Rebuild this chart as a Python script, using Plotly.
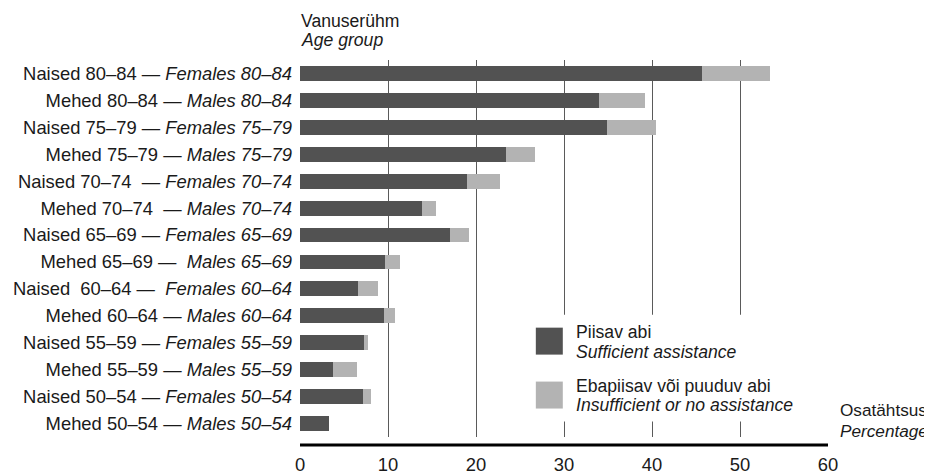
import plotly.graph_objects as go

# ---- data (bottom to top) ----
categories = [
    "M50", "N50", "M55", "N55", "M60", "N60", "M65",
    "N65", "M70", "N70", "M75", "N75", "M80", "N80",
]
tick_labels = [
    "Mehed 50–54 — <i>Males 50–54</i>",
    "Naised 50–54 — <i>Females 50–54</i>",
    "Mehed 55–59 — <i>Males 55–59</i>",
    "Naised 55–59 — <i>Females 55–59</i>",
    "Mehed 60–64 — <i>Males 60–64</i>",
    "Naised\u00a0 60–64 —\u00a0 <i>Females 60–64</i>",
    "Mehed 65–69 —\u00a0 <i>Males 65–69</i>",
    "Naised 65–69 — <i>Females 65–69</i>",
    "Mehed 70–74\u00a0 — <i>Males 70–74</i>",
    "Naised 70–74\u00a0 — <i>Females 70–74</i>",
    "Mehed 75–79 — <i>Males 75–79</i>",
    "Naised 75–79 — <i>Females 75–79</i>",
    "Mehed 80–84 — <i>Males 80–84</i>",
    "Naised 80–84 — <i>Females 80–84</i>",
]
sufficient = [3.3, 7.2, 3.8, 7.3, 9.6, 6.6, 9.7, 17.0, 13.9, 19.0, 23.4, 34.9, 34.0, 45.7]
insufficient = [0.0, 0.9, 2.7, 0.4, 1.2, 2.3, 1.7, 2.2, 1.5, 3.7, 3.3, 5.5, 5.2, 7.7]
x_ticks = [0, 10, 20, 30, 40, 50, 60]

DARK = "#525252"
LIGHT = "#b3b3b3"
FONT = "Liberation Sans, Arial, sans-serif"
FS_TICK = 18.4
FS_ANN = 17.6

OFF = 8  # page body margin
W, H = 932 - OFF, 473 - OFF
L, T = 300 - OFF, 60 - OFF
PB = 437.5 - OFF         # plot bottom in figure px
PR = 828.4 - OFF         # plot right in figure px
R, B = W - PR, H - PB
PW, PH = PR - L, PB - T

def px_x(p):
    return (p - OFF - L) / PW

def px_y(p):
    return (PB - (p - OFF)) / PH

fig = go.Figure()
fig.add_trace(go.Bar(y=categories, x=sufficient, orientation="h",
                     marker=dict(color=DARK, line=dict(width=0)),
                     width=0.55, name="Piisav abi", showlegend=False))
fig.add_trace(go.Bar(y=categories, x=insufficient, orientation="h",
                     marker=dict(color=LIGHT, line=dict(width=0)),
                     width=0.55, name="Ebapiisav või puuduv abi", showlegend=False))

fig.update_layout(
    barmode="stack",
    width=W, height=H,
    margin=dict(l=L, r=R, t=T, b=B, pad=0, autoexpand=False),
    paper_bgcolor="white", plot_bgcolor="white",
    font=dict(family=FONT, size=FS_TICK, color="#1a1a1a"),
    xaxis=dict(range=[0, 60], tickvals=x_ticks, showgrid=True, automargin=False,
               gridcolor="#5a5a5a", gridwidth=1, zeroline=False,
               showline=False, ticks="", ticklabelstandoff=15,
               tickfont=dict(size=FS_TICK, color="#1a1a1a")),
    yaxis=dict(categoryorder="array", categoryarray=categories, automargin=False,
               tickvals=categories, ticktext=tick_labels,
               range=[-0.5, 13.5], showgrid=False, zeroline=False,
               showline=False, ticks="", ticklabelstandoff=7,
               tickfont=dict(size=FS_TICK, color="#1a1a1a")),
)

# axis baseline (offset below plot) and manual legend
shapes = [
    dict(type="line", xref="paper", yref="paper",
         x0=0, x1=1, y0=px_y(445.5), y1=px_y(445.5),
         line=dict(color="black", width=3), layer="above"),
    dict(type="rect", xref="paper", yref="paper",
         x0=px_x(528), x1=px_x(815), y0=px_y(422), y1=px_y(315),
         fillcolor="white", line=dict(width=0), layer="above"),
    dict(type="rect", xref="paper", yref="paper",
         x0=px_x(536), x1=px_x(563), y0=px_y(355), y1=px_y(328),
         fillcolor=DARK, line=dict(width=0), layer="above"),
    dict(type="rect", xref="paper", yref="paper",
         x0=px_x(536), x1=px_x(563), y0=px_y(409), y1=px_y(382),
         fillcolor=LIGHT, line=dict(width=0), layer="above"),
]
fig.update_layout(shapes=shapes)

def label(text, x, y, size=FS_ANN):
    fig.add_annotation(text=text, xref="paper", yref="paper",
                       x=px_x(x), y=px_y(y), xanchor="left", yanchor="middle",
                       showarrow=False, font=dict(size=size, color="#1a1a1a"))

label("Vanuserühm", 299, 21)
label("<i>Age group</i>", 299, 40)
label("Piisav abi", 574, 332)
label("<i>Sufficient assistance</i>", 574, 352)
label("Ebapiisav või puuduv abi", 574, 386)
label("<i>Insufficient or no assistance</i>", 574, 405)
label("Osatähtsus", 838, 410, 17.2)
label("<i>Percentage</i>", 838, 431, 17.2)

fig.write_html("out.html")
